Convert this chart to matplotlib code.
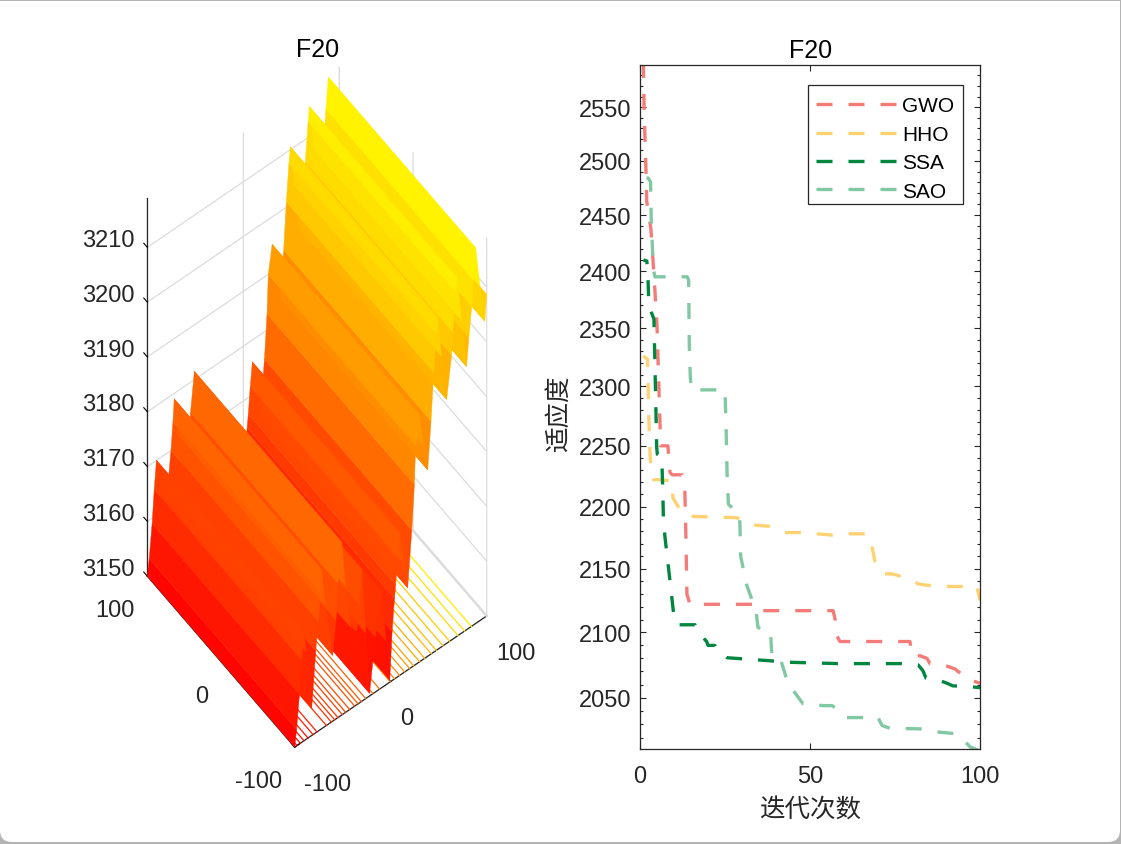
import matplotlib
matplotlib.use('Agg')
import matplotlib.pyplot as plt
import numpy as np
from matplotlib.lines import Line2D
from matplotlib.patches import FancyBboxPatch, Rectangle
from matplotlib.ticker import FixedLocator, NullFormatter
from matplotlib.transforms import IdentityTransform

plt.rcParams['font.family'] = ['Liberation Sans', 'Noto Sans CJK SC', 'DejaVu Sans']
plt.rcParams['axes.unicode_minus'] = False

W, H = 1121, 845
TEXT = '#262626'

# surface profile z(x), the same along y
surf_x = [-100,-98,-95,-92.8,-90.5,-88,-82.3,-78,-75.4,-73.3,-72,-68,-60.4,-57,-55,-51,-47,-42,-35.4,-33,-30,-26,-22,-16,-9.4,-5,-1,1.5,4,5.2,7.2,9.4,13.5,17.7,22,24.7,26,30,34,38.6,42,44.8,47.5,49,53,58.3,63.5,64.6,67.5,68.8,74,79,81.5,84.4,86,88.5,93,98,100]
surf_z = [3150,3153,3159,3165,3170,3166,3155,3165,3170,3175,3179,3172,3162,3168,3174.5,3181.5,3173,3165,3163.5,3168,3174,3162,3150.5,3160,3167.6,3158,3150.4,3159,3164.7,3167,3171.8,3176,3170,3165,3175,3183,3190,3195,3189,3184,3192.5,3201,3207.7,3210.5,3203,3194.5,3202,3206,3213,3215.5,3207,3198,3203,3208.4,3213,3218.5,3211,3204,3208.7]
surf_y = [-100, 100]
floor_x = [-97.6,-94.1,-90.3,-86.1,-80.9,-76.8,-67,-61.8,-58.4,-54.9,-50.4,-46.9,-42.7,-37.5,-34,-30.6,-26,-18.4,-11.5,-0.4,4.1,9.3,14.6,19.8,23.9,30.2,35.4,42.3,47.5,54.5,61.4,70.1,77,84]
floor_y_end = 0
surf_ticks = [-100, 0, 100]
z_ticks = [3150, 3160, 3170, 3180, 3190, 3200, 3210]

# convergence curves
gwo_x = [1,1.2,1.5,1.8,2,3.2,3.8,4.4,5,5.3,5.6,5.9,6,8.2,8.4,8.8,9.5,12.4,13.2,13.5,13.8,14.7,18.8,34,34.6,56.8,57.4,58,58.8,79.4,80,82.4,84.4,85.3,90.3,92.6,93.5,97.6,100]
gwo_y = [2590,2548,2517.5,2486,2462,2438,2411,2382,2352,2323,2295,2267,2250,2250,2243,2228,2226,2226,2212,2176,2130,2122,2122,2122,2117,2117,2110,2097,2093,2093,2082,2082,2080,2076,2074,2072,2070,2063,2061]
hho_x = [1,2.2,2.4,2.6,2.9,3.2,4,5.3,9.4,9.7,11.2,12.6,15.6,28.5,33.8,38.2,42.6,47,52,56.5,61.2,66.8,68.2,69.1,71.5,74.1,75.6,80.3,81.8,84.4,89.7,99.1,100]
hho_y = [2326,2323,2300,2273,2246,2233,2222,2222,2221,2207,2200,2200,2192,2191,2185,2184,2179,2179,2178,2177,2178,2178,2168,2156,2146,2146,2145,2140.5,2138,2137,2136,2136,2125]
ssa_x = [1,2,2.3,2.6,4.1,4.3,4.5,4.8,4.9,5.1,6.4,6.7,6.9,7.4,8.5,10,10.9,13.5,16.2,17,19.6,20,22,22.4,25.6,39.1,44.1,58.2,77,81.8,83.2,84.1,88.2,90.3,92,97,100]
ssa_y = [2410,2409,2399,2369.4,2358,2330,2304,2264,2249,2243,2241,2213,2188,2174,2148,2112,2106,2106,2106,2100.6,2093,2090,2090,2087,2080.5,2078,2077,2076,2076,2075,2070.6,2065,2063,2061,2059,2058.4,2057.6]
sao_x = [1,2.4,3.1,3.3,3.7,3.9,4.4,13.9,14.3,14.5,14.8,15.1,25,25.3,25.6,26,28.2,29.2,29.4,29.6,31.4,34.1,34.7,36.8,38.4,38.7,39,41.2,43.5,47.9,53.8,56.5,57.9,60.9,70,71.2,73.5,83.2,88.2,92.6,95.6,97.1,99.1,100]
sao_y = [2484,2484,2480.5,2447,2417,2402,2395,2395,2392,2335,2308,2297,2297,2268,2228,2202,2196,2194,2185,2160,2137,2117,2104,2100.6,2100,2086,2081,2080.5,2061,2045.5,2044,2044,2041.6,2035,2035,2029,2027,2026.5,2024,2023,2017,2013,2011,2010]
# iteration where one dash of each curve starts
series = [('GWO', gwo_x, gwo_y, '#F47C78', 18.8),
          ('HHO', hho_x, hho_y, '#FED272', 42.6),
          ('SSA', ssa_x, ssa_y, '#00873F', 44.1),
          ('SAO', sao_x, sao_y, '#82C8A3', 60.9)]
y_major = [2050, 2100, 2150, 2200, 2250, 2300, 2350, 2400, 2450, 2500, 2550]
y_minor = list(range(2020, 2590, 10))

LW = 2.4
DASH = (4.8, 4.8)


def dash_offset(ax, xs, ys, x_start):
    # line-width units to shift the pattern so a dash begins at x_start
    pts = ax.transData.transform(np.column_stack([xs, ys]))
    steps = np.hypot(*np.diff(pts, axis=0).T)
    keep = np.array(xs[1:]) <= x_start
    return -steps[keep].sum() * .72 / LW % sum(DASH)


fig = plt.figure(figsize=(W / 100, H / 100), dpi=100, facecolor='#b4b4b4')

# window frame of the screenshot
fig.add_artist(FancyBboxPatch((12, 14), W - 25, H, boxstyle='round,pad=12,rounding_size=12', lw=0, fc='white',
                              transform=IdentityTransform(), zorder=-2))
fig.add_artist(Rectangle((0, H - 2), W, 2, lw=0, fc='#b4b4b4', transform=IdentityTransform(), zorder=-1))

# left 3D panel
side = 800
ax1 = fig.add_axes([(317 - .5135 * side) / W, (H - 408 - .5135 * side) / H, side / W, side / H],
                   projection='3d', proj_type='ortho', computed_zorder=False)
ax1.patch.set_alpha(0)
ax1.view_init(elev=62.9, azim=-127.5)
ax1.set_box_aspect((1, 1, 3.43), zoom=871.7 / side)
ax1.set_xlim(-100, 100)
ax1.set_ylim(-100, 100)
ax1.set_zlim(3150, 3219)

ax1.plot([100, 100], [-100, 100], [3150, 3150], color='#dcdcdc', lw=1.8, zorder=.5)
for xf in floor_x:
    ax1.plot([xf, xf], [-100, floor_y_end], [3150, 3150], lw=.9, zorder=1,
             color=plt.cm.autumn((xf + 100) / 200))

X, Y = np.meshgrid(surf_x, surf_y)
Z = np.array([surf_z, surf_z])
surf = ax1.plot_surface(X, Y, Z, rstride=1, cstride=1, cmap='autumn', vmin=3150, vmax=3219, shade=False,
                        linewidth=.3, antialiased=True, zorder=2)
surf.set_edgecolor('face')

ax1.set_xticks(surf_ticks)
ax1.set_yticks(surf_ticks)
ax1.set_zticks(z_ticks)
for axis in (ax1.xaxis, ax1.yaxis, ax1.zaxis):
    axis.set_pane_color((1, 1, 1, 0))
    axis.pane.set_edgecolor('#dcdcdc')
    axis.line.set_color(TEXT)
    axis.line.set_linewidth(.9)
    axis._axinfo['grid'].update(color='#dcdcdc', linewidth=.9)
    axis._axinfo['tick'].update(color=TEXT, linewidth={True: .8, False: .5}, inward_factor=0, outward_factor=.3)
ax1.tick_params(labelsize=17, labelcolor=TEXT, pad=12)
ax1.zaxis.set_tick_params(pad=3)
ax1.zaxis.set_ticks_position('upper')
ax1.zaxis._get_tickdir = lambda pos: 1
for tick in ax1.xaxis.get_major_ticks():
    tick.label1.set_ha('left')
    tick.label1.set_va('center')
for tick in ax1.yaxis.get_major_ticks():
    tick.label1.set_ha('right')
    tick.label1.set_va('center')
for tick in ax1.zaxis.get_major_ticks():
    tick.label1.set_ha('right')
    tick.label1.set_va('baseline')
fig.text(318 / W, 1 - 50 / H, 'F20', ha='center', va='center', fontsize=18, color='black')

# right convergence panel
ax2 = fig.add_axes([640 / W, 1 - 750 / H, 340 / W, 684 / H])
ax2.set_yscale('log')
ax2.set_xlim(0, 100)
ax2.set_ylim(2011.5, 2590)
handles = []
for name, xs, ys, col, x_start in series:
    ax2.plot(xs, ys, color=col, lw=LW, ls=(dash_offset(ax2, xs, ys, x_start), DASH),
             dash_capstyle='butt', dash_joinstyle='round')
    handles.append(Line2D([], [], color=col, lw=LW, ls=(0, DASH), dash_capstyle='butt', label=name))
ax2.set_xticks([0, 50, 100])
ax2.yaxis.set_major_locator(FixedLocator(y_major))
ax2.yaxis.set_minor_locator(FixedLocator(y_minor))
ax2.yaxis.set_major_formatter(plt.FuncFormatter(lambda v, p: f'{v:.0f}'))
ax2.yaxis.set_minor_formatter(NullFormatter())
ax2.tick_params(which='major', direction='in', top=True, right=True, length=4.5, width=.8, color=TEXT, labelsize=17, labelcolor=TEXT, pad=6)
ax2.tick_params(which='minor', direction='in', right=True, length=2.2, width=.8, color=TEXT)
ax2.tick_params(axis='x', pad=11.5)
for sp in ax2.spines.values():
    sp.set_color(TEXT)
    sp.set_linewidth(.9)
ax2.set_title('F20', fontsize=18, color='black', pad=6, x=.503)
ax2.set_xlabel('迭代次数', fontsize=18.4, color=TEXT, labelpad=8)
ax2.set_ylabel('适应度', fontsize=18.4, color=TEXT, labelpad=6, y=.491)
ax2.add_patch(Rectangle((168 / 340, 1 - 139 / 684), 155 / 340, 119 / 684, transform=ax2.transAxes,
                        fc='white', ec=TEXT, lw=.9, zorder=4))
ax2.legend(handles=handles, loc='upper left', bbox_to_anchor=(168 / 340, 1 - 23.5 / 684), borderaxespad=0, fontsize=15,
           handlelength=3.85, handletextpad=.27, labelspacing=.45, borderpad=.38, frameon=False, labelcolor='black')

fig.savefig('out.png', dpi=100, facecolor=fig.get_facecolor())
